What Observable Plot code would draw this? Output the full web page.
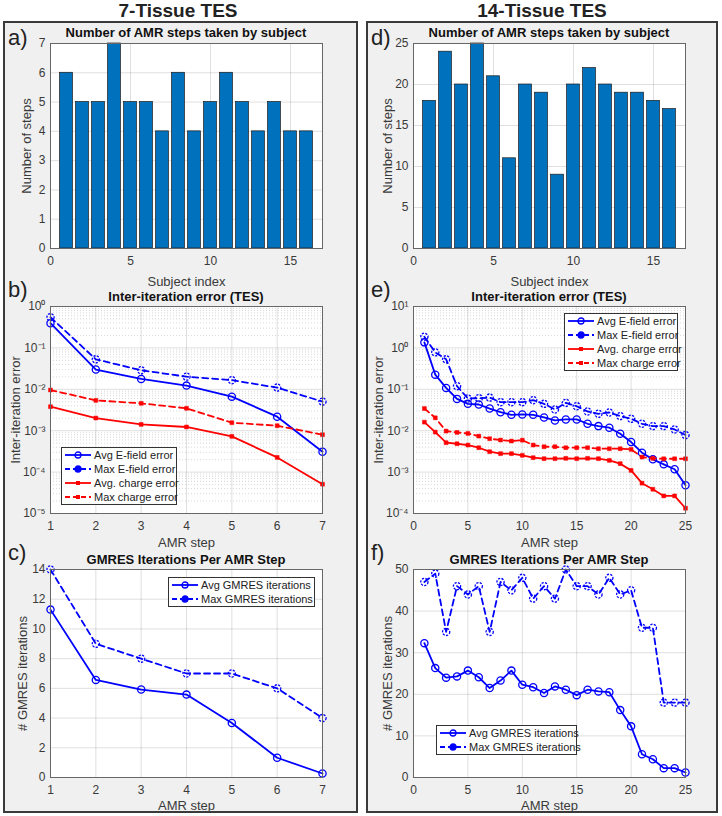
<!DOCTYPE html>
<html><head><meta charset="utf-8">
<script src="https://cdn.jsdelivr.net/npm/d3@7"></script>
<script src="https://cdn.jsdelivr.net/npm/@observablehq/plot@0.6"></script>
<style>
body{margin:0;background:#fff;font-family:"Liberation Sans",Arial,sans-serif;}
#root{position:relative;width:722px;height:816px;overflow:hidden;}
.panel{position:absolute;background:#f0f0f0;border:2px solid #3a3a3a;box-sizing:border-box;}
.head{position:absolute;font-weight:bold;font-size:19px;line-height:19px;color:#222;text-align:center;width:300px;}
.tag{position:absolute;font-size:22px;line-height:22px;color:#222;}
.ttl{position:absolute;font-weight:bold;font-size:13px;line-height:14px;color:#111;text-align:center;white-space:nowrap;width:320px;}
.leg{position:absolute;background:#fff;border:1px solid #333;font-size:11px;color:#222;box-sizing:border-box;padding:0 2px;}
.leg .row{display:flex;align-items:center;white-space:nowrap;}
</style></head>
<body><div id="root"></div>
<script>
// ---------- data ----------
const subjectIdx = [1,2,3,4,5,6,7,8,9,10,11,12,13,14,15,16];
const stepsTES7 = [6,5,5,7,5,5,4,6,4,5,6,5,4,5,4,4];
const stepsTES14 = [18,24,20,25,21,11,20,19,9,20,22,20,19,19,18,17];

const amrSteps7 = [1,2,3,4,5,6,7];
const avgEfield7 = [0.395,0.030,0.0178,0.0123,0.00665,0.00218,0.00031];
const maxEfield7 = [0.55,0.053,0.0288,0.0202,0.0166,0.011,0.00504];
const avgCharge7 = [0.0038,0.00202,0.00142,0.00123,0.00073,0.000226,0.000051];
const maxCharge7 = [0.0096,0.0054,0.00458,0.00347,0.00156,0.00132,0.0008];
const avgGmres7 = [11.3,6.57,5.92,5.58,3.67,1.33,0.27];
const maxGmres7 = [14,9,8,7,7,6,4];

const amrSteps14 = [1,2,3,4,5,6,7,8,9,10,11,12,13,14,15,16,17,18,19,20,21,22,23,24,25];
const avgEfield14 = [1.36,0.226,0.108,0.0587,0.0445,0.0429,0.0343,0.028,0.0242,0.0247,0.0242,0.0209,0.0177,0.0187,0.0187,0.0147,0.0129,0.0118,0.00844,0.00532,0.00294,0.00203,0.00154,0.00117,0.00048];
const maxEfield14 = [1.86,0.78,0.53,0.119,0.06,0.061,0.063,0.0489,0.0489,0.0489,0.0546,0.0445,0.0325,0.047,0.039,0.0291,0.0256,0.0275,0.0225,0.0194,0.0147,0.0129,0.0129,0.0107,0.00784];
const avgCharge14 = [0.0161,0.00925,0.00513,0.00484,0.0045,0.00388,0.00311,0.00279,0.00279,0.00254,0.00223,0.00211,0.00211,0.00215,0.00211,0.00215,0.00211,0.00192,0.0016,0.0011,0.00054,0.000385,0.000266,0.000266,0.000134];
const maxCharge14 = [0.0343,0.0205,0.00978,0.00908,0.00859,0.0074,0.0064,0.00594,0.00562,0.0059,0.0045,0.0041,0.0041,0.00388,0.00388,0.00388,0.00367,0.00367,0.00367,0.00354,0.00231,0.00215,0.0021,0.0021,0.0021];
const avgGmres14 = [32.3,26.3,24.0,24.3,25.7,24.1,21.5,23.3,25.7,22.3,21.7,20.3,21.9,21.1,19.8,21.1,20.7,20.5,16.2,12.3,5.6,4.4,2.25,2.25,1.2];
const maxGmres14 = [47,49,35,46,44,46,35,47,45,48,43,46,43,50,46,46,44,48,44,45,36,36,18,18,18];

const ticksSubj = [0,5,10,15];
const ticksSteps7 = [0,1,2,3,4,5,6,7];
const ticksSteps14 = [0,5,10,15,20,25];
const ticksAmr7 = [1,2,3,4,5,6,7];
const ticksAmr14 = [0,5,10,15,20,25];
const ticksLog7 = [1e-5,1e-4,1e-3,1e-2,1e-1,1];
const ticksLog14 = [1e-4,1e-3,1e-2,1e-1,1,10];
const ticksGm7 = [0,2,4,6,8,10,12,14];
const ticksGm14 = [0,10,20,30,40,50];

const labelsErr = ["Avg E-field error","Max E-field error","Avg. charge error","Max charge error"];
const labelsGm = ["Avg GMRES iterations","Max GMRES iterations"];

// ---------- styling ----------
const FONT = '"Liberation Sans", Arial, sans-serif';
const BLUE = "#0000ff", RED = "#ff0000", BAR = "#0072bd";
const GRID = {stroke:"#262626", strokeOpacity:0.15};
const TXT = "#3a3a3a";
const root = document.getElementById("root");

function put(el, left, top){ el.style.position="absolute"; el.style.left=left+"px"; el.style.top=top+"px"; root.appendChild(el); return el; }
function div(cls, text, left, top){ const d=document.createElement("div"); d.className=cls; d.textContent=text; return put(d,left,top); }

// panels
const p1 = document.createElement("div"); p1.className="panel"; p1.style.width="355px"; p1.style.height="792px"; put(p1,3,21);
const p2 = document.createElement("div"); p2.className="panel"; p2.style.width="352px"; p2.style.height="792px"; put(p2,366,21);
div("head","7-Tissue TES",178-150,1);
div("head","14-Tissue TES",542-150,1);

const sup = {"-":"\u207B","0":"\u2070","1":"\u00B9","2":"\u00B2","3":"\u00B3","4":"\u2074","5":"\u2075","6":"\u2076","7":"\u2077","8":"\u2078","9":"\u2079"};
const fmtPow = d => "10" + String(Math.round(Math.log10(d))).split("").map(c=>sup[c]).join("");

const COLS = [{left:5, W:350, mR:33}, {left:368, W:346, mR:29}];

function axes(xt, yt, xlabel, ylabel, xOff, yOff, yfmt){
  return [
    Plot.axisX(xt, {tickSize:0, tickPadding:8, fontSize:12, fill:TXT, label:null}),
    Plot.axisX({ticks:[], tickSize:0, label:xlabel, labelAnchor:"center", labelOffset:xOff, labelArrow:"none", fontSize:13, fill:TXT}),
    Plot.axisY(yt, {tickSize:0, tickPadding:5, fontSize:12, fill:TXT, tickFormat: yfmt, label:null}),
    Plot.axisY({ticks:[], tickSize:0, label:ylabel, labelAnchor:"center", labelOffset:yOff, labelArrow:"none", fontSize:13, fill:TXT})
  ];
}
function mk(col, top, H, mB, marks, x, y){
  const svg = Plot.plot({
    width:col.W, height:H, marginLeft:45, marginRight:col.mR, marginTop:4, marginBottom:mB,
    x, y, marks,
    style:{background:"transparent", fontFamily:FONT, fontSize:"12px", color:TXT, overflow:"visible"}
  });
  return put(svg, col.left, top);
}

function barPanel(col, values, yt, ymax, ylabOff){
  const data = subjectIdx.map((s,i)=>({s, v:values[i]}));
  mk(col, 39, 249, 40, [
    Plot.frame({fill:"white", stroke:"none"}),
    Plot.gridX(ticksSubj, GRID),
    Plot.gridY(yt, GRID),
    Plot.rectY(data, {x1:d=>d.s-0.4, x2:d=>d.s+0.4, y1:0, y2:"v", fill:BAR, stroke:"#1a1a1a", strokeWidth:0.7}),
    Plot.frame({stroke:"#666", fill:"none"}),
    ...axes(ticksSubj, yt, "Subject index", "Number of steps", 37, ylabOff)
  ], {domain:[0,17]}, {domain:[0,ymax]});
}

function seriesMarks(xs, vals, color, dashed, square){
  const data = xs.map((x,i)=>({x, y:vals[i]}));
  const m = [Plot.line(data, {x:"x", y:"y", stroke:color, strokeWidth:1.8, strokeDasharray: dashed ? "6,4" : null})];
  if (square) m.push(Plot.dot(data, {x:"x", y:"y", symbol:"square", r:2.2, fill:color, stroke:color, strokeWidth:0.5}));
  else m.push(Plot.dot(data, {x:"x", y:"y", r:3.6, fill:"none", stroke:color, strokeWidth:1.3, strokeDasharray: dashed ? "2.2,1.3" : null}));
  return m;
}

function logPanel(col, xs, xt, xdom, yt, ydom, sets){
  const minor = [];
  for (let k = Math.round(Math.log10(ydom[0])); k < Math.round(Math.log10(ydom[1])); k++)
    for (let m = 2; m <= 9; m++) minor.push(m * Math.pow(10, k));
  mk(col, 302, 251, 40, [
    Plot.frame({fill:"white", stroke:"none"}),
    Plot.ruleY(minor, {stroke:"#262626", strokeOpacity:0.18, strokeDasharray:"1,2"}),
    Plot.gridX(xt, GRID),
    Plot.gridY(yt, GRID),
    ...seriesMarks(xs, sets[0], BLUE, false, false),
    ...seriesMarks(xs, sets[1], BLUE, true, false),
    ...seriesMarks(xs, sets[2], RED, false, true),
    ...seriesMarks(xs, sets[3], RED, true, true),
    Plot.frame({stroke:"#666", fill:"none"}),
    ...axes(xt, yt, "AMR step", "Inter-iteration error", 33, 40, fmtPow)
  ], {domain:xdom}, {type:"log", domain:ydom});
}

function gmPanel(col, xs, xt, xdom, yt, ydom, avg, mx, ylabOff){
  mk(col, 565, 250, 38, [
    Plot.frame({fill:"white", stroke:"none"}),
    Plot.gridX(xt, GRID),
    Plot.gridY(yt, GRID),
    ...seriesMarks(xs, avg, BLUE, false, false),
    ...seriesMarks(xs, mx, BLUE, true, false),
    Plot.frame({stroke:"#666", fill:"none"}),
    ...axes(xt, yt, "AMR step", "# GMRES iterations", 32, ylabOff)
  ], {domain:xdom}, {domain:ydom});
}

function legend(items, left, top, width, rowH){
  const box = document.createElement("div"); box.className="leg"; box.style.width=width+"px";
  box.style.height=(items.length*rowH+2)+"px";
  for (const it of items){
    const row = document.createElement("div"); row.className="row"; row.style.height=rowH+"px";
    const dash = it.dashed ? 'stroke-dasharray="5,3"' : '';
    const marker = it.square
      ? `<rect x="12" y="${rowH/2-2}" width="4" height="4" fill="${it.color}"/>`
      : `<circle cx="14" cy="${rowH/2}" r="3" fill="${it.dashed ? it.color : 'none'}" stroke="${it.color}" stroke-width="1.3"/>`;
    row.innerHTML = `<svg width="30" height="${rowH}" style="flex:none"><line x1="1" x2="27" y1="${rowH/2}" y2="${rowH/2}" stroke="${it.color}" stroke-width="1.8" ${dash}/>${marker}</svg><span>${it.label}</span>`;
    box.appendChild(row);
  }
  return put(box, left, top);
}
const errItems = [
  {label:labelsErr[0], color:BLUE, dashed:false, square:false},
  {label:labelsErr[1], color:BLUE, dashed:true, square:false},
  {label:labelsErr[2], color:RED, dashed:false, square:true},
  {label:labelsErr[3], color:RED, dashed:true, square:true}
];
const gmItems = [
  {label:labelsGm[0], color:BLUE, dashed:false, square:false},
  {label:labelsGm[1], color:BLUE, dashed:true, square:false}
];

// row 1
barPanel(COLS[0], stepsTES7, ticksSteps7, 7, 29);
barPanel(COLS[1], stepsTES14, ticksSteps14, 25, 31);
// row 2
logPanel(COLS[0], amrSteps7, ticksAmr7, [1,7], ticksLog7, [1e-5,1], [avgEfield7, maxEfield7, avgCharge7, maxCharge7]);
logPanel(COLS[1], amrSteps14, ticksAmr14, [0,25], ticksLog14, [1e-4,10], [avgEfield14, maxEfield14, avgCharge14, maxCharge14]);
// row 3
gmPanel(COLS[0], amrSteps7, ticksAmr7, [1,7], ticksGm7, [0,14], avgGmres7, maxGmres7, 33);
gmPanel(COLS[1], amrSteps14, ticksAmr14, [0,25], ticksGm14, [0,50], avgGmres14, maxGmres14, 31);

// titles and tags
div("ttl","Number of AMR steps taken by subject",186-160,26);
div("ttl","Number of AMR steps taken by subject",549-160,26);
div("ttl","Inter-iteration error (TES)",186-160,290);
div("ttl","Inter-iteration error (TES)",549-160,290);
div("ttl","GMRES Iterations Per AMR Step",186-160,553);
div("ttl","GMRES Iterations Per AMR Step",549-160,553);
div("tag","a)",8,27); div("tag","b)",8,279); div("tag","c)",8,542);
div("tag","d)",371,27); div("tag","e)",371,279); div("tag","f)",371,542);

legend(errItems, 61, 447, 116, 14);
legend(errItems, 564, 313, 114, 14);
legend(gmItems, 168, 577, 147, 14);
legend(gmItems, 436, 725, 141, 14);
</script>
</body></html>
